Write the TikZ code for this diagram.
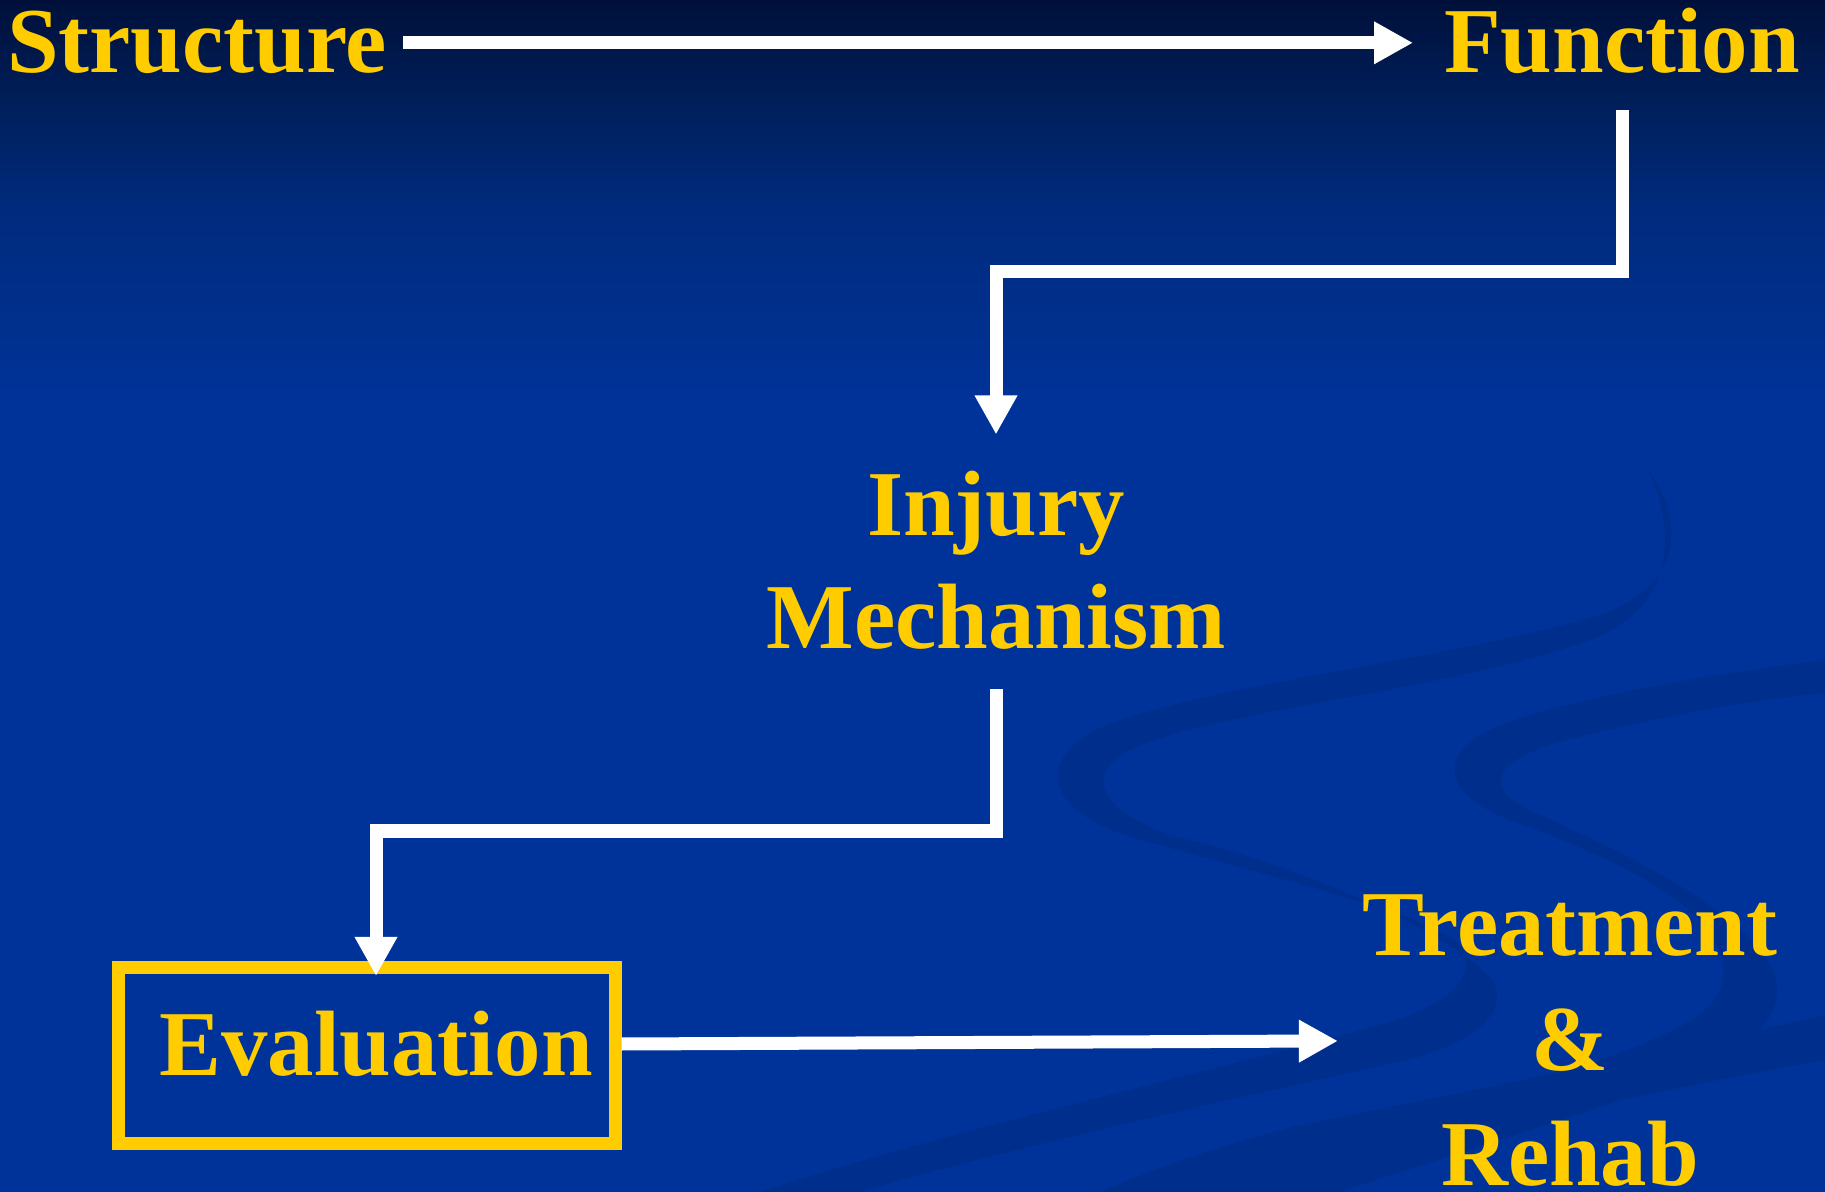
\documentclass[tikz,border=0pt]{standalone}
\usepackage{fontspec}
\setmainfont{Liberation Serif}
\usetikzlibrary{arrows.meta}
\definecolor{bgblue}{HTML}{003399}
\definecolor{navyA}{HTML}{00103A}
\definecolor{navyB}{HTML}{001E58}
\definecolor{navyC}{HTML}{002A7C}
\definecolor{swoosh}{HTML}{002E8C}
\definecolor{gold}{HTML}{FFCC00}
% TikZ maps the path onto the 25bp..75bp part of the shading
\pgfdeclareverticalshading{bgshade}{100bp}{color(0bp)=(bgblue); color(58bp)=(bgblue); color(66.5bp)=(navyC); color(71bp)=(navyB); color(75bp)=(navyA); color(100bp)=(navyA)}
\begin{document}
\begin{tikzpicture}[x=0.01cm, y=-0.01cm,
  lbl/.style={text=gold, font=\fontsize{26.4pt}{32.7pt}\selectfont\bfseries, inner sep=0pt, outer sep=0pt, align=center},
  conn/.style={draw=white, line width=0.13cm, -{Triangle[length=0.39cm, width=0.4cm]}},
  band/.style={fill=swoosh}]
\useasboundingbox (0,0) rectangle (1825,1192);
\shade[shading=bgshade] (0,0) rectangle (1825,1192);
% decorative swooshes
\fill[band] (1648,470)
  .. controls (1685,520) and (1685,585) .. (1600,615)
  .. controls (1450,660) and (1200,685) .. (1100,728)
  .. controls (1040,755) and (1030,815) .. (1160,845)
  .. controls (1300,885) and (1430,915) .. (1460,945)
  .. controls (1480,975) and (1450,1005) .. (1386,1023)
  .. controls (1200,1075) and (950,1130) .. (760,1192)
  -- (860,1192)
  .. controls (1000,1150) and (1250,1095) .. (1408,1060)
  .. controls (1480,1040) and (1510,1010) .. (1492,980)
  .. controls (1460,940) and (1320,870) .. (1170,835)
  .. controls (1090,805) and (1085,770) .. (1140,745)
  .. controls (1250,705) and (1450,690) .. (1590,640)
  .. controls (1670,610) and (1680,540) .. (1648,470) -- cycle;
\fill[band] (1825,660)
  .. controls (1700,675) and (1530,705) .. (1480,735)
  .. controls (1440,760) and (1445,795) .. (1510,820)
  .. controls (1620,860) and (1710,905) .. (1722,960)
  .. controls (1730,1000) and (1700,1020) .. (1640,1045)
  .. controls (1500,1100) and (1350,1150) .. (1240,1192)
  -- (1340,1192)
  .. controls (1450,1155) and (1600,1110) .. (1690,1075)
  .. controls (1770,1040) and (1790,1000) .. (1770,965)
  .. controls (1740,910) and (1630,855) .. (1540,815)
  .. controls (1480,790) and (1490,762) .. (1560,742)
  .. controls (1650,718) and (1750,700) .. (1825,693) -- cycle;
\fill[band] (1825,1015)
  .. controls (1650,1055) and (1450,1095) .. (1300,1125)
  .. controls (1220,1145) and (1150,1170) .. (1100,1192)
  -- (1240,1192)
  .. controls (1400,1150) and (1600,1100) .. (1825,1060) -- cycle;
% nodes
\node[lbl, anchor=base] (s) at (197,73) {Structure};
\node[lbl, anchor=base] (f) at (1622,73) {Function};
\node[lbl, anchor=north, font=\fontsize{26.4pt}{32.2pt}\selectfont\bfseries] (im) at (996,471) {Injury\\Mechanism};
\node[draw=gold, line width=0.13cm, minimum width=4.96cm, minimum height=1.76cm,
      text=gold, font=\fontsize{26.4pt}{32.7pt}\selectfont\bfseries, text depth=0.24cm, inner sep=0pt] (ev) at (367,1055.5) {\hspace*{0.18cm}Evaluation};
\node[lbl, anchor=north] (tr) at (1570,895) {Treatment\\\&\\Rehab};
% connectors
\draw[conn, shorten <=0.16cm, shorten >=0.31cm] (s.east) -- (s.east -| f.west);
\draw[conn, shorten <=0.36cm, shorten >=0.365cm] (f.south) -- (f.south |- 0,272) -| (im.north);
\draw[conn, shorten <=0.39cm, shorten >=-0.15cm] (im.south) -- (im.south |- 0,831) -| ([xshift=0.09cm]ev.north);
\draw[conn, shorten >=0.25cm] ([yshift=0.115cm]ev.east) -- (tr.west);
\end{tikzpicture}
\end{document}
